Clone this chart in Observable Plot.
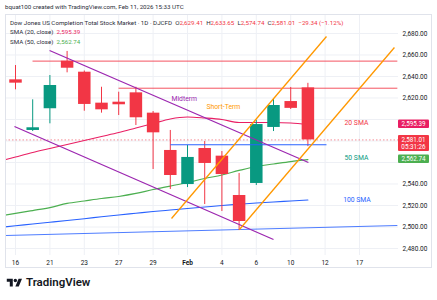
<!DOCTYPE html>
<html><head><meta charset="utf-8">
<script src="https://cdn.jsdelivr.net/npm/d3@7"></script>
<script src="https://cdn.jsdelivr.net/npm/@observablehq/plot@0.6"></script>
<style>
body{margin:0;width:437px;height:300px;overflow:hidden;background:#fff;font-family:Roboto,"Noto Sans",sans-serif;color:#131722;position:relative}
.abs{position:absolute;white-space:nowrap;line-height:1}
#hdr{left:5px;top:4px;font-size:6.2px;color:#2a2e39}
#chart{position:absolute;left:5px;top:14px}
.lg{left:10px;font-size:6.2px;color:#2a2e39}
.r{color:#f23645}
#logo{left:6px;top:277px;font-size:11.5px;font-weight:600;display:flex;align-items:center;gap:3px;color:#131722}
</style></head><body>
<div id="hdr" class="abs">bquat100 created with TradingView.com, Feb 11, 2026 15:33 UTC</div>
<div id="chart"></div>
<div class="abs lg" style="top:20px">Dow Jones US Completion Total Stock Market · 1D · DJCFD&nbsp;&nbsp;O<span class="r">2,629.41</span>&nbsp;&nbsp;H<span class="r">2,633.65</span>&nbsp;&nbsp;L<span class="r">2,574.74</span>&nbsp;&nbsp;C<span class="r">2,581.01</span>&nbsp;&nbsp;<span class="r">−29.34 (−1.12%)</span></div>
<div class="abs lg" style="top:29px">SMA (20, close)&nbsp;&nbsp;<span style="color:#e91e63">2,595.39</span></div>
<div class="abs lg" style="top:38.5px">SMA (50, close)&nbsp;&nbsp;<span style="color:#4caf50">2,562.74</span></div>
<div id="logo" class="abs"><svg width="17" height="12" viewBox="0 0 36 28"><path fill="#131722" d="M14 22H7V11H0V4h14v18zM28 22h-8l7.5-18h8L28 22z"/><circle fill="#131722" cx="20" cy="8" r="4"/></svg><span>TradingView</span></div>
<script>
// ---- data ----
const dates = ["Jan 16","Jan 20","Jan 21","Jan 22","Jan 23","Jan 26","Jan 27","Jan 28","Jan 29","Jan 30","Feb 2","Feb 3","Feb 4","Feb 5","Feb 6","Feb 9","Feb 10","Feb 11"];
const opens  = [2636.9,2589.8,2610.0,2654.2,2644.0,2615.2,2616.1,2624.8,2605.9,2571.2,2539.5,2573.0,2565.9,2529.3,2540.5,2592.6,2616.7,2629.41];
const highs  = [2650.2,2618.3,2640.9,2663.3,2645.1,2630.0,2625.4,2630.0,2607.4,2589.8,2575.8,2579.5,2570.2,2549.8,2599.1,2618.6,2629.8,2633.65];
const lows   = [2627.6,2588.8,2596.0,2643.4,2607.7,2605.9,2603.7,2594.4,2553.5,2534.9,2536.7,2520.9,2514.4,2496.7,2538.6,2588.8,2609.3,2574.74];
const closes = [2633.8,2592.3,2631.6,2647.7,2614.0,2609.0,2613.7,2601.6,2587.6,2547.9,2564.7,2559.1,2548.8,2505.1,2595.3,2613.0,2610.35,2581.01];

// moving averages, bar index -1 .. 17
const smaIndex = d3.range(-1, 18);
const sma20  = [2560.9,2565.1,2569.3,2573.0,2576.7,2580.5,2584.2,2587.9,2592.1,2596.3,2600.5,2602.3,2601.4,2600.0,2597.2,2597.2,2597.2,2596.7,2595.39];
const sma50  = [2510.2,2512.6,2515.3,2518.1,2521.9,2524.2,2526.5,2528.4,2531.2,2534.9,2538.1,2541.4,2545.1,2548.4,2552.6,2556.3,2558.6,2560.9,2562.74];
const sma100 = [2499.5,2501.1,2502.8,2504.4,2506.0,2507.7,2509.5,2511.2,2512.8,2514.4,2515.8,2517.2,2518.6,2520.0,2521.2,2522.3,2523.3,2524.2,2525.1];

// drawn lines (bar index / price endpoints)
const drawKind = ["mid","mid","short","short","level","level","hline","trend"];
const drawX1 = [1.98,-0.06,9.07,13.02,0.99,5.99,9.01,-0.58];
const drawY1 = [2664.2,2593.5,2507.9,2497.7,2654.3,2629.1,2576.5,2492.1];
const drawX2 = [17.03,15.0,18.08,22.03,22.2,22.2,18.08,22.2];
const drawY2 = [2560.0,2488.4,2677.2,2667.0,2654.3,2629.1,2576.5,2501.4];

// annotations
const noteText = ["Midterm","Short-Term","20 SMA","50 SMA","100 SMA"];
const noteX = [9.07,11.1,19.13,19.13,19.05];
const noteY = [2619.5,2612.1,2597.2,2564.7,2525.6];
const noteColor = ["#9c27b0","#ff9800","#f23645","#089981","#2962ff"];

// axis ticks
const xTickIndex = [0,2,4,6,8,10,12,14,16,18,20];
const xTickLabels = ["16","21","23","27","29","Feb","4","6","10","12","17"];
const yGrid = d3.range(2480, 2681, 20);
const yTickLabels = [2480,2500,2520,2540,2620,2640,2660,2680]; // others hidden behind price tags
const countdown = "05:31:26";

// ---- build ----
const candles = dates.map((d,i)=>({i, o:opens[i], h:highs[i], l:lows[i], c:closes[i], up: closes[i]>=opens[i]}));
const smaRows = smaIndex.map((i,k)=>({i, s20:sma20[k], s50:sma50[k], s100:sma100[k]}));
const drawColors = {mid:"#9c27b0", short:"#ff9800", level:"#f23645", hline:"#2962ff", trend:"#4f7dff"};
const draws = drawKind.map((k,j)=>({k, x1:drawX1[j], y1:drawY1[j], x2:drawX2[j], y2:drawY2[j]}));
const notes = noteText.map((t,j)=>({t, x:noteX[j], y:noteY[j], c:noteColor[j]}));
const UP="#089981", DN="#f23645";
const last = closes[closes.length-1];

const chart = Plot.plot({
  width: 427, height: 254,
  marginLeft: 0, marginRight: 34, marginTop: 0, marginBottom: 13,
  x: {domain: [-0.5814, 22.267]},
  y: {domain: [2473.49, 2697.67]},
  style: {fontFamily: "Roboto, 'Noto Sans', sans-serif", fontSize: "6.5px", color: "#131722", background: "#fff", overflow: "visible"},
  marks: [
    Plot.gridX(xTickIndex, {stroke: "#eef0f5", strokeOpacity: 1}),
    Plot.gridY(yGrid, {stroke: "#eef0f5", strokeOpacity: 1}),
    Plot.axisX(xTickIndex, {tickSize: 0, tickPadding: 5, tickFormat: d => xTickLabels[xTickIndex.indexOf(d)], fill: "#131722"}),
    Plot.axisY(yTickLabels, {anchor: "right", tickSize: 0, tickPadding: 4, tickFormat: d3.format(",.2f"), fill: "#131722"}),
    Plot.ruleY([last], {stroke: DN, strokeOpacity: 0.55, strokeDasharray: "1.5,2"}),
    Plot.link(draws.filter(d=>d.k==="level"), {x1:"x1", y1:"y1", x2:"x2", y2:"y2", stroke: d=>drawColors[d.k], strokeOpacity: 0.85, strokeWidth: 1, clip: true}),
    Plot.link(draws.filter(d=>d.k==="trend"), {x1:"x1", y1:"y1", x2:"x2", y2:"y2", stroke: d=>drawColors[d.k], strokeWidth: 1.1, clip: true}),
    Plot.line(smaRows, {x:"i", y:"s100", stroke:"#2962ff", strokeWidth:1.1, curve:"monotone-x", clip:true}),
    Plot.line(smaRows, {x:"i", y:"s50", stroke:"#4caf50", strokeWidth:1.2, curve:"monotone-x", clip:true}),
    Plot.line(smaRows, {x:"i", y:"s20", stroke:"#e91e63", strokeWidth:1.1, curve:"monotone-x", clip:true}),
    // candles
    Plot.ruleX(candles, {x:"i", y1:"l", y2:"h", stroke: d=>d.up?UP:DN, strokeWidth: 1}),
    Plot.ruleX(candles, {x:"i", y1:"o", y2:"c", stroke: d=>d.up?UP:DN, strokeWidth: 12.5}),
    Plot.link(draws.filter(d=>d.k==="hline"), {x1:"x1", y1:"y1", x2:"x2", y2:"y2", stroke: d=>drawColors[d.k], strokeWidth: 1, clip: true}),
    Plot.link(draws.filter(d=>d.k==="mid"||d.k==="short"), {x1:"x1", y1:"y1", x2:"x2", y2:"y2", stroke: d=>drawColors[d.k], strokeWidth: 1.3, clip: true}),
    Plot.text(notes, {x:"x", y:"y", text:"t", fill:"c", textAnchor:"start", fontSize: 6.8})
  ]
});
document.getElementById("chart").appendChild(chart);

const svg = d3.select(chart);
svg.selectAll("text").filter(function(){return d3.select(this).text()==="Feb";}).attr("font-weight","bold");
// frame
svg.append("rect").attr("x",0.5).attr("y",0.5).attr("width",426).attr("height",253).attr("fill","none").attr("stroke","#e0e3eb");
// price tags
const ys = chart.scale("y");
const tagX = 393, tagW = 31;
const tags = [
  {v: sma20[sma20.length-1], c:"#e91e63", lines:[d3.format(",.2f")(sma20[sma20.length-1])]},
  {v: last, c:"#f23645", lines:[d3.format(",.2f")(last), countdown]},
  {v: sma50[sma50.length-1], c:"#4caf50", lines:[d3.format(",.2f")(sma50[sma50.length-1])]}
];
tags.forEach(t=>{
  const yy = ys.apply(t.v);
  const h = t.lines.length>1 ? 16 : 8.5;
  const g = svg.append("g");
  g.append("rect").attr("x",tagX).attr("y",yy-4.5).attr("width",tagW).attr("height",h).attr("rx",1).attr("fill",t.c);
  t.lines.forEach((s,k)=>{
    g.append("text").attr("x",tagX+tagW/2).attr("y",yy+k*7.5).attr("dy","0.35em").attr("text-anchor","middle")
     .attr("fill","#fff").attr("font-size","6.3px").text(s);
  });
});
</script>
</body></html>
